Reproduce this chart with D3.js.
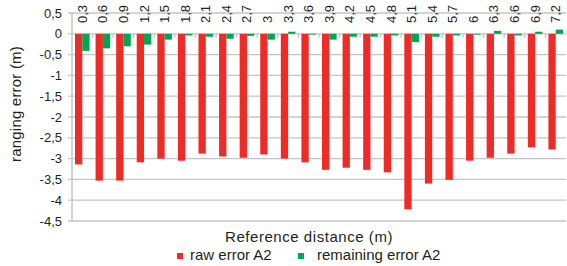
<!DOCTYPE html>
<html>
<head>
<meta charset="utf-8">
<script src="https://cdn.jsdelivr.net/npm/d3@7/dist/d3.min.js"></script>
<style>
  html, body { margin: 0; padding: 0; background: #fff; }
  svg { display: block; font-family: "Liberation Sans", Arial, sans-serif; }
</style>
</head>
<body>
<svg id="chart" width="567" height="266"></svg>
<script>
// reference distance (m), labels written with decimal comma
const distances = ['0,3', '0,6', '0,9', '1,2', '1,5', '1,8', '2,1', '2,4', '2,7', '3', '3,3', '3,6',
                   '3,9', '4,2', '4,5', '4,8', '5,1', '5,4', '5,7', '6', '6,3', '6,6', '6,9', '7,2'];
const rawError = [-3.14, -3.53, -3.53, -3.09, -3.0, -3.05, -2.88, -2.95, -2.98, -2.9, -3.0, -3.09,
                  -3.27, -3.22, -3.27, -3.33, -4.22, -3.6, -3.51, -3.05, -2.98, -2.88, -2.73, -2.78];
const remainingError = [-0.41, -0.35, -0.30, -0.26, -0.14, -0.04, -0.07, -0.12, -0.05, -0.14, 0.05, -0.02,
                        -0.14, -0.07, -0.07, -0.04, -0.20, -0.07, -0.04, -0.02, 0.07, -0.04, 0.05, 0.10];
const yTicks = [0.5, 0, -0.5, -1, -1.5, -2, -2.5, -3, -3.5, -4, -4.5];
const seriesNames = ['raw error A2', 'remaining error A2'];
const seriesColors = ['#ee2b26', '#00a651'];

const svg = d3.select('#chart');
const plotLeft = 72, plotRight = 566, plotTop = 13, plotBottom = 221;
const textColor = '#231f20';
const gridColor = '#c4c4c4';

const y = d3.scaleLinear().domain([-4.5, 0.5]).range([plotBottom, plotTop]);
const x = d3.scaleBand().domain(distances).range([plotLeft, plotRight]).padding(0);
const x1 = d3.scaleBand().domain(seriesNames).range([0, x.bandwidth()]).paddingInner(0).paddingOuter(0.41);

const fmt = v => String(v).replace('.', ',');

// gridlines
svg.append('g')
  .selectAll('line')
  .data(yTicks)
  .join('line')
    .attr('x1', plotLeft - 4)
    .attr('x2', plotRight)
    .attr('y1', d => y(d))
    .attr('y2', d => y(d))
    .attr('stroke', gridColor)
    .attr('stroke-width', 1.3);

// y axis line
svg.append('line')
  .attr('x1', plotLeft).attr('x2', plotLeft)
  .attr('y1', plotTop).attr('y2', plotBottom)
  .attr('stroke', gridColor)
  .attr('stroke-width', 1.5);

// y tick labels
svg.append('g')
  .selectAll('text')
  .data(yTicks)
  .join('text')
    .attr('x', plotLeft - 10)
    .attr('y', d => y(d))
    .attr('dy', '0.35em')
    .attr('text-anchor', 'end')
    .attr('font-size', 13)
    .attr('fill', textColor)
    .text(fmt);

// bars
const rows = distances.map((d, i) => ({ d, values: [rawError[i], remainingError[i]] }));
svg.append('g')
  .selectAll('g')
  .data(rows)
  .join('g')
    .attr('transform', r => `translate(${x(r.d)},0)`)
  .selectAll('rect')
  .data(r => r.values.map((v, k) => ({ v, k })))
  .join('rect')
    .attr('x', e => x1(seriesNames[e.k]))
    .attr('width', x1.bandwidth())
    .attr('y', e => y(Math.max(0, e.v)))
    .attr('height', e => Math.abs(y(e.v) - y(0)))
    .attr('fill', e => seriesColors[e.k]);

// category tick marks on the zero line
svg.append('g')
  .selectAll('line')
  .data(distances.slice(1))
  .join('line')
    .attr('x1', d => x(d))
    .attr('x2', d => x(d))
    .attr('y1', y(0))
    .attr('y2', y(0) + 4)
    .attr('stroke', gridColor)
    .attr('stroke-width', 1.3);

// category labels along the top, rotated
svg.append('g')
  .selectAll('text')
  .data(distances)
  .join('text')
    .attr('transform', d => `translate(${x(d) + x.bandwidth() / 2 + 4.5},23) rotate(-90)`)
    .attr('text-anchor', 'start')
    .attr('font-size', 13)
    .attr('fill', textColor)
    .text(d => d);

// axis titles
svg.append('text')
  .attr('transform', 'translate(21,104) rotate(-90)')
  .attr('text-anchor', 'middle')
  .attr('font-size', 15)
  .attr('letter-spacing', 0.2)
  .attr('fill', textColor)
  .text('ranging error (m)');

svg.append('text')
  .attr('x', 309)
  .attr('y', 242)
  .attr('text-anchor', 'middle')
  .attr('font-size', 15)
  .attr('letter-spacing', 0.55)
  .attr('fill', textColor)
  .text('Reference distance (m)');

// legend
const legendX = [177, 298];
const legend = svg.append('g')
  .selectAll('g')
  .data(seriesNames)
  .join('g')
    .attr('transform', (d, i) => `translate(${legendX[i]},0)`);
legend.append('rect')
  .attr('x', 0).attr('y', 253)
  .attr('width', 6).attr('height', 6)
  .attr('fill', (d, i) => seriesColors[i]);
legend.append('text')
  .attr('x', (d, i) => i === 0 ? 13 : 19)
  .attr('y', 260)
  .attr('font-size', 15)
  .attr('fill', textColor)
  .text(d => d);
</script>
</body>
</html>
